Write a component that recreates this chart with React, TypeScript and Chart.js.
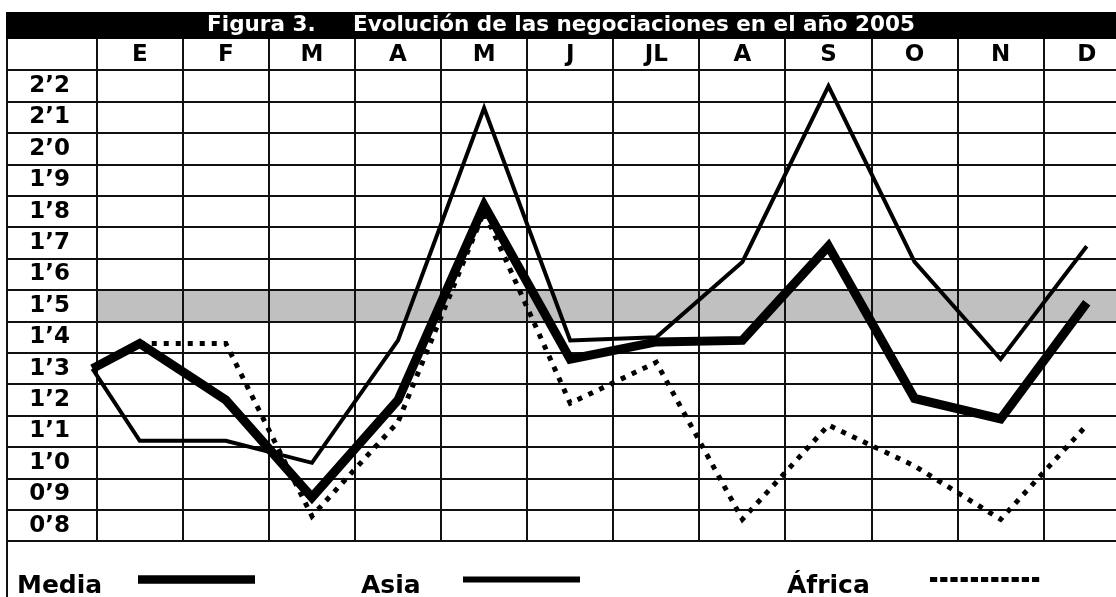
import React, { useEffect, useRef } from "react";
import { Chart, registerables } from "chart.js";

Chart.register(...registerables);

// ---------- data ----------
const months = ["E", "F", "M", "A", "M", "J", "JL", "A", "S", "O", "N", "D"];
const yTickValues = [0.8, 0.9, 1.0, 1.1, 1.2, 1.3, 1.4, 1.5, 1.6, 1.7, 1.8, 1.9, 2.0, 2.1, 2.2];
const yTickLabels = ["0’8", "0’9", "1’0", "1’1", "1’2", "1’3", "1’4", "1’5", "1’6", "1’7", "1’8", "1’9", "2’0", "2’1", "2’2"];
const openingX = 0.45; // opening value, drawn on the left edge of the grid
const mediaOpening = 1.3;
const asiaOpening = 1.3;
const mediaValues = [1.38, 1.2, 0.89, 1.2, 1.82, 1.33, 1.385, 1.39, 1.69, 1.205, 1.14, 1.51];
const asiaValues = [1.07, 1.07, 1.0, 1.39, 2.13, 1.39, 1.4, 1.64, 2.2, 1.64, 1.33, 1.69];
const africaValues = [1.38, 1.38, 0.83, 1.13, 1.8, 1.19, 1.32, 0.82, 1.12, 0.99, 0.82, 1.12];
const bandRange = [1.45, 1.55];
const seriesNames = ["Media", "Asia", "África"];
const titleText = "Figura 3.     Evolución de las negociaciones en el año 2005";

// ---------- style ----------
const FONT = "'DejaVu Sans', 'Liberation Sans', sans-serif";
const GRID = "#111";

function toPoints(values: number[], opening: number | null) {
  const pts = values.map((v, i) => ({ x: i + 1, y: v }));
  return opening === null ? pts : [{ x: openingX, y: opening }, ...pts];
}

const framePlugin = {
  id: "tableFrame",
  beforeDraw(chart: any) {
    const { ctx, chartArea, scales } = chart;
    const tb = chart.titleBlock;
    ctx.save();
    ctx.fillStyle = "#fff";
    ctx.fillRect(0, 0, chart.width, chart.height);
    ctx.fillStyle = "#000";
    ctx.fillRect(tb.left, tb.top, tb.width, tb.height);
    const yTop = scales.y.getPixelForValue(bandRange[1]);
    const yBot = scales.y.getPixelForValue(bandRange[0]);
    ctx.fillStyle = "#c0c0c0";
    ctx.fillRect(chartArea.left, yTop, chartArea.right - chartArea.left, yBot - yTop);
    ctx.strokeStyle = GRID;
    ctx.lineWidth = 2;
    ctx.beginPath();
    ctx.moveTo(tb.left + 1, tb.bottom);
    ctx.lineTo(tb.left + 1, chart.height);
    ctx.stroke();
    ctx.restore();
  },
};

const legendPlugin = {
  id: "lineLegend",
  afterDraw(chart: any, _args: any, opts: any) {
    const { ctx } = chart;
    ctx.save();
    ctx.font = `bold 25px ${FONT}`;
    ctx.fillStyle = "#000";
    ctx.textBaseline = "alphabetic";
    ctx.textAlign = "left";
    chart.data.datasets.forEach((ds: any, i: number) => {
      const item = opts.items[i];
      ctx.fillText(ds.label, item.textX, opts.textY);
      ctx.beginPath();
      ctx.setLineDash(item.dash || []);
      ctx.lineWidth = item.width;
      ctx.strokeStyle = ds.borderColor;
      ctx.lineCap = "butt";
      ctx.moveTo(item.lineX1, opts.lineY);
      ctx.lineTo(item.lineX2, opts.lineY);
      ctx.stroke();
    });
    ctx.restore();
  },
};

export default function App() {
  const ref = useRef<HTMLCanvasElement | null>(null);

  useEffect(() => {
    if (!ref.current) return;
    const chart = new Chart(ref.current, {
      type: "line",
      data: {
        datasets: [
          {
            label: seriesNames[0],
            data: toPoints(mediaValues, mediaOpening),
            borderColor: "#000",
            borderWidth: 9,
            pointRadius: 0,
            fill: false,
            tension: 0,
            clip: false as any,
          },
          {
            label: seriesNames[1],
            data: toPoints(asiaValues, asiaOpening),
            borderColor: "#000",
            borderWidth: 4,
            pointRadius: 0,
            fill: false,
            tension: 0,
            clip: false as any,
          },
          {
            label: seriesNames[2],
            data: toPoints(africaValues, null),
            borderColor: "#000",
            borderWidth: 5,
            borderDash: [5, 7],
            pointRadius: 0,
            fill: false,
            tension: 0,
            clip: false as any,
          },
        ],
      },
      options: {
        responsive: false,
        animation: false,
        events: [],
        layout: { padding: { left: 6, top: 12, right: 0, bottom: 55.7 } },
        plugins: {
          legend: { display: false },
          tooltip: { enabled: false },
          title: {
            display: true,
            text: titleText,
            color: "#fff",
            padding: 0,
            font: { family: FONT, size: 21.5, weight: "bold", lineHeight: "27px" as any },
          },
          lineLegend: {
            textY: 593,
            lineY: 579.5,
            items: [
              { textX: 17, lineX1: 138, lineX2: 255, width: 8.5 },
              { textX: 361, lineX1: 463, lineX2: 580, width: 6 },
              { textX: 787, lineX1: 930, lineX2: 1042, width: 5, dash: [7.2, 3] },
            ],
          },
        } as any,
        scales: {
          x: {
            type: "linear",
            position: "top",
            min: 0.5,
            max: 12.34,
            afterBuildTicks: (s: any) => {
              s.ticks = months.map((_, i) => ({ value: i + 1 }));
            },
            afterFit: (s: any) => {
              s.height = 31.4;
            },
            ticks: {
              autoSkip: false,
              maxRotation: 0,
              padding: -29.8,
              color: "#000",
              font: { family: FONT, size: 23, weight: "bold" },
              callback: (_v: any, i: number) => months[i],
            },
            grid: { offset: true, color: GRID, lineWidth: 2, tickLength: 31.4, drawTicks: true },
            border: { display: false },
          },
          y: {
            type: "linear",
            position: "left",
            min: 0.75,
            max: 2.25,
            afterBuildTicks: (s: any) => {
              s.ticks = yTickValues.map((v) => ({ value: v }));
            },
            afterFit: (s: any) => {
              s.width = 90.7;
            },
            ticks: {
              autoSkip: false,
              padding: -64,
              crossAlign: "near",
              color: "#000",
              font: { family: FONT, size: 23, weight: "bold" },
              callback: (_v: any, i: number) => yTickLabels[i],
            },
            grid: { offset: true, color: GRID, lineWidth: 2, tickLength: 90.7, drawTicks: true },
            border: { display: false },
          },
        } as any,
      },
      plugins: [framePlugin, legendPlugin],
    });
    return () => chart.destroy();
  }, []);

  return (
    <div style={{ position: "fixed", left: 0, top: 0, width: 1116, height: 597 }}>
      <canvas ref={ref} width={1116} height={597} style={{ display: "block" }} />
    </div>
  );
}
